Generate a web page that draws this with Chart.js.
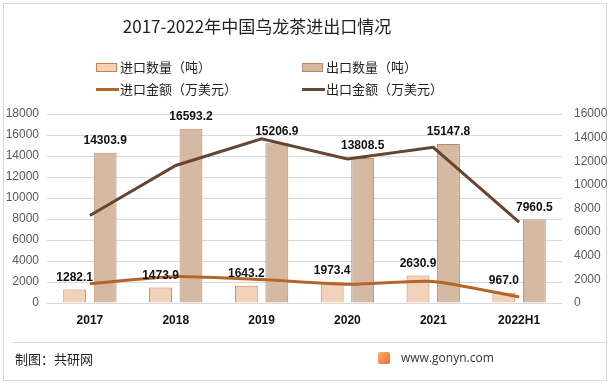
<!DOCTYPE html>
<html>
<head>
<meta charset="utf-8">
<script src="https://cdn.jsdelivr.net/npm/chart.js@4.4.0/dist/chart.umd.min.js"></script>
<style>
  body { margin: 0; background: #fff; }
  #wrap { position: relative; width: 613px; height: 385px; overflow: hidden; font-family: "Noto Sans CJK SC", sans-serif; }
  #frame { position: absolute; left: 3px; top: 3px; width: 604px; height: 378px; border: 1px solid #d9d9d9; box-sizing: border-box; }
  #title { position: absolute; left: 0; width: 514px; top: 13px; text-align: center; font-size: 17px; color: #222; }
  .leg { position: absolute; font-size: 13px; color: #222; line-height: 16px; }
  .box { position: absolute; width: 21px; height: 9px; box-sizing: border-box; }
  .ln { position: absolute; width: 23px; height: 3px; }
  #foot { position: absolute; left: 13px; top: 342px; width: 593px; border-top: 1px solid #d9d9d9; }
  #maker { position: absolute; left: 15px; top: 349px; font-size: 13px; color: #222; }
  #site { position: absolute; left: 401px; top: 349px; font-size: 12px; color: #333; font-family: "Open Sans", sans-serif; }
  #logo { position: absolute; left: 378px; top: 352px; width: 12px; height: 12px; border-radius: 2px; background: linear-gradient(135deg, #f7b267, #ef6b3a); }
  canvas { position: absolute; left: 0; top: 0; }
</style>
</head>
<body>
<div id="wrap">
  <div id="frame"></div>
  <canvas id="c" width="613" height="385"></canvas>
  <div id="title">2017-2022年中国乌龙茶进出口情况</div>
  <div class="box" style="left:96px;top:63px;background:#f2d2b8;border:1px solid #c9824c"></div>
  <div class="leg" style="left:120px;top:59px">进口数量（吨）</div>
  <div class="box" style="left:302px;top:63px;background:#d5b9a3;border:1px solid #b98a69"></div>
  <div class="leg" style="left:326px;top:59px">出口数量（吨）</div>
  <div class="ln" style="left:96px;top:88px;background:#b5652a"></div>
  <div class="leg" style="left:120px;top:81px">进口金额（万美元）</div>
  <div class="ln" style="left:302px;top:88px;background:#664630"></div>
  <div class="leg" style="left:326px;top:81px">出口金额（万美元）</div>
  <div id="foot"></div>
  <div id="maker">制图：共研网</div>
  <div id="logo"></div>
  <div id="site">www.gonyn.com</div>
</div>
<script>
// data
const years = ["2017", "2018", "2019", "2020", "2021", "2022H1"];
const importTons = [1282.1, 1473.9, 1643.2, 1973.4, 2630.9, 967.0];
const exportTons = [14303.9, 16593.2, 15206.9, 13808.5, 15147.8, 7960.5];
const importValue = [1640, 2250, 1980, 1580, 1830, 510];   // 万美元, estimated
const exportValue = [7410, 11640, 13900, 12200, 13180, 6850]; // 万美元, estimated

const tickFont = { family: "Liberation Sans, sans-serif", size: 12 };
const plain = function(v) { return String(v); };

// value labels above the bars
const barLabels = {
  id: "barLabels",
  afterDatasetsDraw(chart) {
    const ctx = chart.ctx;
    ctx.save();
    ctx.font = "bold 12px Liberation Sans, sans-serif";
    ctx.fillStyle = "#111";
    ctx.textAlign = "center";
    ctx.textBaseline = "middle";
    [0, 1].forEach(function(di) {
      const meta = chart.getDatasetMeta(di);
      const vals = chart.data.datasets[di].data;
      meta.data.forEach(function(bar, i) {
        ctx.fillText(vals[i].toFixed(1), bar.x, bar.y - 12);
      });
    });
    ctx.restore();
  }
};

new Chart(document.getElementById("c"), {
  data: {
    labels: years,
    datasets: [
      { type: "bar", label: "进口数量（吨）", data: importTons, yAxisID: "y",
        backgroundColor: "#f2d2b8", borderColor: "#c9824c", borderWidth: 1,
        barPercentage: 0.75, categoryPercentage: 0.71, order: 2 },
      { type: "bar", label: "出口数量（吨）", data: exportTons, yAxisID: "y",
        backgroundColor: "#d5b9a3", borderColor: "#b98a69", borderWidth: 1,
        barPercentage: 0.75, categoryPercentage: 0.71, order: 2 },
      { type: "line", label: "进口金额（万美元）", data: importValue, yAxisID: "y1",
        borderColor: "#b5652a", borderWidth: 3, pointRadius: 0, tension: 0.2, order: 1 },
      { type: "line", label: "出口金额（万美元）", data: exportValue, yAxisID: "y1",
        borderColor: "#664630", borderWidth: 3, pointRadius: 0, tension: 0, order: 1 }
    ]
  },
  options: {
    responsive: false,
    animation: false,
    layout: { padding: { top: 114, left: 0, right: 0, bottom: 0 } },
    plugins: { legend: { display: false }, tooltip: { enabled: false } },
    scales: {
      x: {
        offset: true,
        grid: { display: false, drawTicks: false },
        border: { display: false },
        ticks: { color: "#111", font: { family: "Liberation Sans, sans-serif", size: 12, weight: "bold" }, padding: 10 },
        afterFit: function(s) { s.height = 82; }
      },
      y: {
        position: "left", min: 0, max: 18000,
        ticks: { stepSize: 2000, color: "#595959", font: tickFont, padding: 8, callback: plain },
        grid: { color: "#d9d9d9", drawTicks: false },
        border: { display: false },
        afterFit: function(s) { s.width = 47; }
      },
      y1: {
        position: "right", min: 0, max: 16000,
        ticks: { stepSize: 2000, color: "#595959", font: tickFont, padding: 12, callback: plain },
        grid: { display: false, drawTicks: false },
        border: { display: false },
        afterFit: function(s) { s.width = 51; }
      }
    }
  },
  plugins: [barLabels]
});
</script>
</body>
</html>
